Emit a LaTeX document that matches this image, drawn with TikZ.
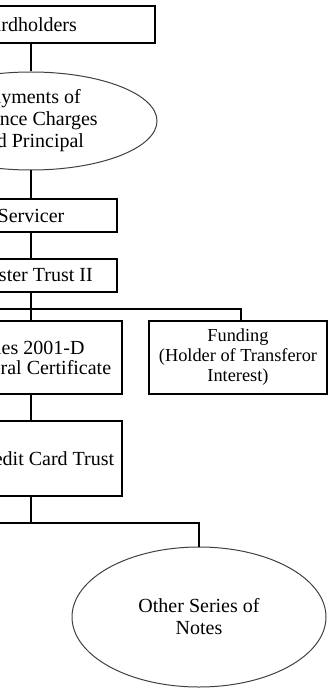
\documentclass[tikz,border=0pt]{standalone}
\usepackage{fontspec}
\setmainfont{Liberation Serif}
\usepackage{tikz}
\usetikzlibrary{shapes.geometric}

\tikzset{
  flowbox/.style  = {draw, line width=0.7pt, align=center, inner sep=1pt,
                     font=\fontsize{12}{12}\selectfont},
  flowoval/.style = {draw=black!75, line width=0.6pt, ellipse, align=center, inner sep=0pt,
                     font=\fontsize{12}{13.2}\selectfont},
  link/.style     = {line width=0.7pt}
}

\begin{document}
\begin{tikzpicture}[x=0.6pt, y=-0.6pt]

       \useasboundingbox             (0,0) rectangle (330,688);
       \clip                         (0,0) rectangle (330,688);

        \node [flowbox,  minimum width=152.4pt, minimum height=22.2pt] (card)   at (28,24.5)   {Cardholders};
        \node [flowoval, minimum width=151.2pt, minimum height=58.8pt] (pay)    at (31,121)    {Payments of\\Finance Charges\\and Principal};
        \node [flowbox,  minimum width=103.2pt, minimum height=19.8pt] (serv)   at (31,215.5)  {Servicer};
        \node [flowbox,  minimum width=101.4pt, minimum height=19.8pt] (mt)     at (32.5,275.5) {Master Trust II};
        \node [flowbox,  minimum width=114pt,   minimum height=43.8pt] (series) at (27,357.5)  {Series 2001-D\\Collateral Certificate};
        \node [flowbox,  minimum width=106.8pt, minimum height=43.8pt,
               font=\fontsize{11}{12}\selectfont]                      (fund)   at (238,357.5) {Funding\\(Holder of Transferor\\Interest)};
        \node [flowbox,  minimum width=93.6pt,  minimum height=45pt]   (cct)    at (44,458.5)  {Credit Card Trust};
        \node [flowoval, minimum width=152.4pt, minimum height=84pt]   (other)  at (199,617)   {Other Series of\\Notes};

        \coordinate (busa) at (-20,309);
        \coordinate (busb) at (-20,523);

        \draw [link]   (card.south -| pay.north)   -- (pay.north);
        \draw [link]   (pay.south)                 -- (serv.north);
        \draw [link]   (serv.south)                -- (serv.south |- mt.north);
        \draw [link]   (serv.south |- mt.south)    -- (serv.south |- series.north);
        \draw [link]   (busa)  -- (busa -| 241,0)  -- (241,0 |- fund.north);
        \draw [link]   (serv.south |- series.south) -- (serv.south |- cct.north);
        \draw [link]   (serv.south |- cct.south)   -- (serv.south |- busb);
        \draw [link]   (busb)  -- (busb -| other.north) -- (other.north);

     \end{tikzpicture}
\end{document}
